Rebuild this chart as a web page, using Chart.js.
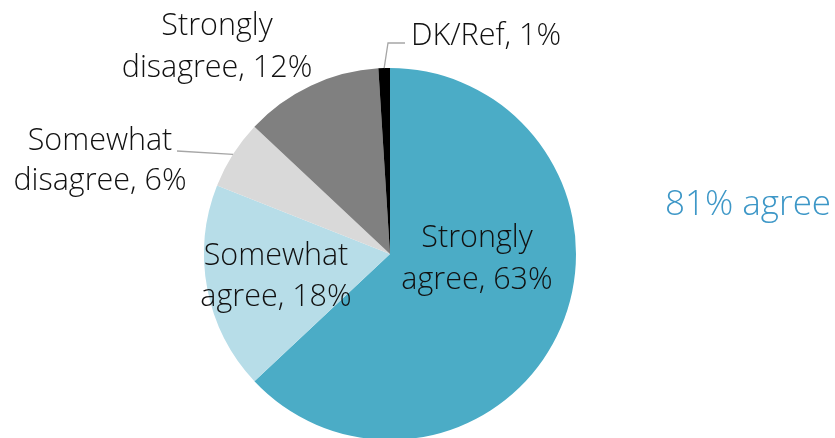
<!DOCTYPE html>
<html>
<head>
<meta charset="utf-8">
<script src="https://cdn.jsdelivr.net/npm/chart.js@4"></script>
<style>
  html, body { margin: 0; padding: 0; background: #fff; overflow: hidden; }
  #wrap { position: relative; width: 835px; height: 438px; overflow: hidden; }
  #wrap canvas { position: absolute; left: 0; top: 0; }
</style>
</head>
<body>
<div id="wrap"><canvas id="c" width="835" height="460"></canvas></div>
<script>
// Survey responses, share of respondents (%)
const categories = ['Strongly agree', 'Somewhat agree', 'Somewhat disagree', 'Strongly disagree', 'DK/Ref'];
const values = [63, 18, 6, 12, 1];
const sliceColors = ['#4BACC6', '#B7DDE8', '#D9D9D9', '#808080', '#000000'];
const summaryText = '81% agree';

// Label placement: text lines, anchor (centre x, first baseline y), optional leader line
const labelLayout = [
  { lines: ['Strongly', 'agree, 63%'], x: 477, y: 247, gap: 42 },
  { lines: ['Somewhat', 'agree, 18%'], x: 276, y: 265, gap: 41 },
  { lines: ['Somewhat', 'disagree, 6%'], x: 100, y: 150, gap: 40, leader: { from: [177, 151] } },
  { lines: ['Strongly', 'disagree, 12%'], x: 217, y: 35, gap: 42 },
  { lines: ['DK/Ref, 1%'], x: 486, y: 45, gap: 42, leader: { from: [405, 43], elbow: [388, 43] } }
];

const FONT = '"Open Sans", "Noto Sans", sans-serif';

const labelPlugin = {
  id: 'sliceLabels',
  afterDatasetsDraw(chart) {
    const ctx = chart.ctx;
    const meta = chart.getDatasetMeta(0);
    ctx.save();
    meta.data.forEach((arc, i) => {
      const L = labelLayout[i];
      if (!L) return;
      if (L.leader) {
        const p = arc.getProps(['x', 'y', 'startAngle', 'endAngle', 'outerRadius'], true);
        const mid = (p.startAngle + p.endAngle) / 2;
        const ex = p.x + Math.cos(mid) * p.outerRadius;
        const ey = p.y + Math.sin(mid) * p.outerRadius;
        ctx.strokeStyle = '#A6A6A6';
        ctx.lineWidth = 1.3;
        ctx.beginPath();
        ctx.moveTo(L.leader.from[0], L.leader.from[1]);
        if (L.leader.elbow) ctx.lineTo(L.leader.elbow[0], L.leader.elbow[1]);
        ctx.lineTo(ex, ey);
        ctx.stroke();
      }
      ctx.fillStyle = '#111111';
      ctx.font = '300 30.5px ' + FONT;
      ctx.textAlign = 'center';
      ctx.textBaseline = 'alphabetic';
      const txt = L.lines.slice();
      // last line carries the value
      txt[txt.length - 1] = txt[txt.length - 1].replace(/\d+%/, values[i] + '%');
      txt.forEach((t, k) => ctx.fillText(t, L.x, L.y + k * L.gap));
    });
    ctx.fillStyle = '#3D97C7';
    ctx.font = '300 35px ' + FONT;
    ctx.textAlign = 'left';
    ctx.fillText(summaryText, 665, 215);
    ctx.restore();
  }
};

new Chart(document.getElementById('c'), {
  type: 'pie',
  data: {
    labels: categories,
    datasets: [{
      data: values,
      backgroundColor: sliceColors,
      borderWidth: 0,
      hoverOffset: 0
    }]
  },
  options: {
    responsive: false,
    animation: false,
    layout: { padding: { left: 204, right: 259, top: 68, bottom: 20 } },
    plugins: { legend: { display: false }, tooltip: { enabled: false } },
    events: []
  },
  plugins: [labelPlugin]
});
</script>
</body>
</html>
